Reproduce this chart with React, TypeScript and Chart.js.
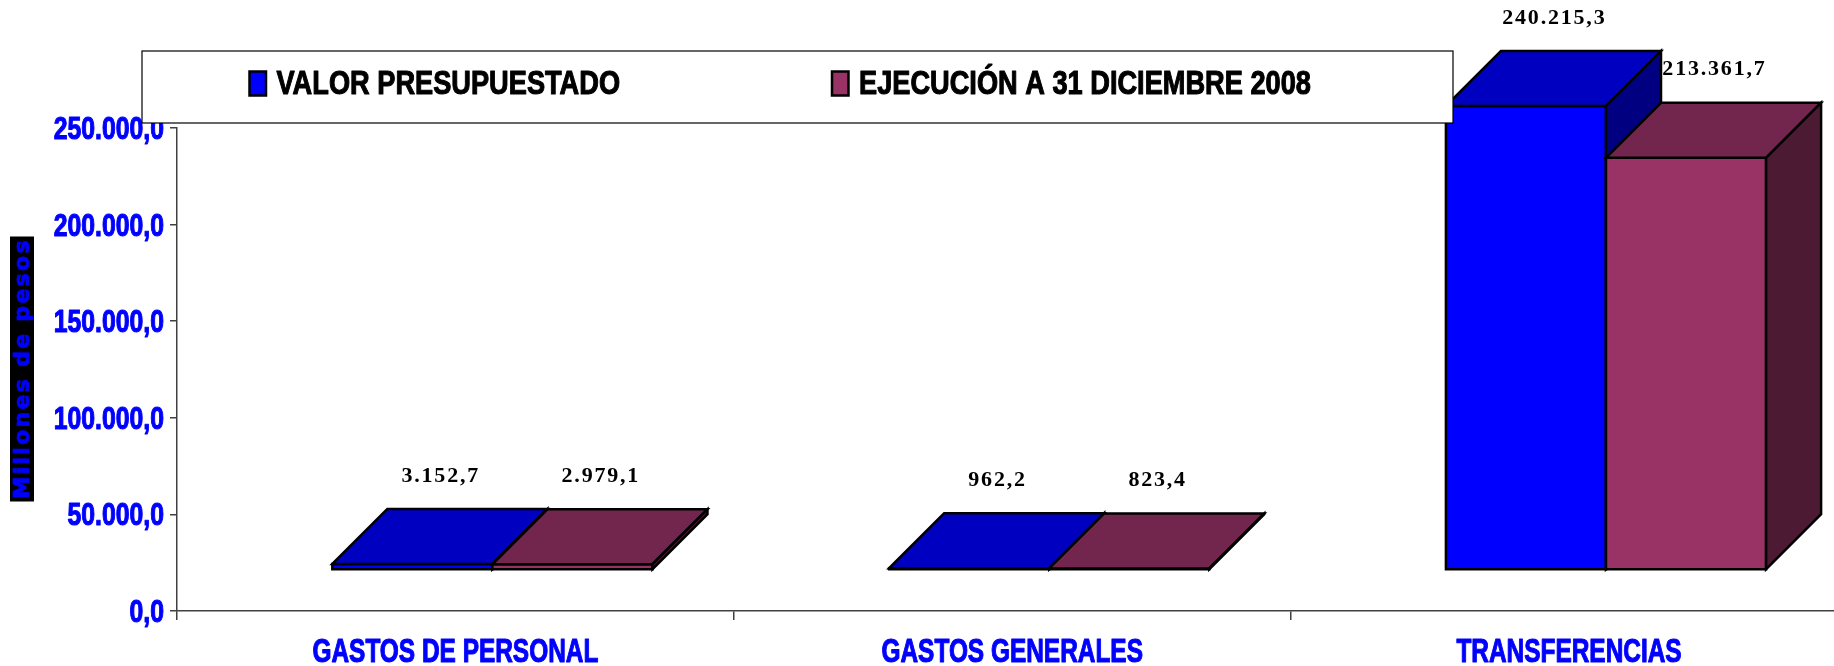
import React, { useEffect, useRef } from 'react';
import { Chart, registerables } from 'chart.js';

Chart.register(...registerables);

// ---- data ----
const categories = ['GASTOS DE PERSONAL', 'GASTOS GENERALES', 'TRANSFERENCIAS'];
const seriesNames = ['VALOR PRESUPUESTADO', 'EJECUCIÓN A 31 DICIEMBRE 2008'];
const presupuestado = [3152.7, 962.2, 240215.3];
const ejecucion = [2979.1, 823.4, 213361.7];
const yTickValues = [0, 50000, 100000, 150000, 200000, 250000];
const axisTitle = 'Millones de pesos';

// ---- styles ----
const frontColors = ['#0000FF', '#993366'];
const topColors = ['#0000C0', '#73264D'];
const sideColors = ['#000080', '#4D1A33'];
const SANS = "'Liberation Sans', Arial, sans-serif";
const SERIF = "'Liberation Serif', 'Times New Roman', serif";
const FRONT_DX = 37;
const FRONT_DY = -41;
const DEPTH = 55;

const fmt = (v: number) => {
  const [i, d] = Math.abs(v).toFixed(1).split('.');
  return i.replace(/\B(?=(\d{3})+(?!\d))/g, '.') + ',' + d;
};

// draw condensed heavy text (narrow bold face emulated by horizontal scaling)
function narrowText(ctx: any, text: string, x: number, y: number, size: number, sx: number, align: string, color: string) {
  ctx.save();
  ctx.translate(x, y);
  ctx.scale(sx, 1);
  ctx.font = `bold ${size}px ${SANS}`;
  ctx.fillStyle = color;
  ctx.strokeStyle = color;
  ctx.lineWidth = 1.1;
  ctx.lineJoin = 'round';
  ctx.textAlign = align;
  ctx.textBaseline = 'alphabetic';
  ctx.fillText(text, 0, 0);
  ctx.strokeText(text, 0, 0);
  ctx.restore();
}

const bars3d = {
  id: 'bars3d',
  afterDatasetsDraw(chart: any) {
    const ctx = chart.ctx;
    const area = chart.chartArea;
    const ys = chart.scales.y;
    const xs = chart.scales.x;

    // axis tick labels
    ys.ticks.forEach((t: any) => {
      narrowText(ctx, fmt(t.value), area.left - 13, ys.getPixelForValue(t.value) + 11, 31, 0.8, 'right', '#0000FF');
    });
    chart.data.labels.forEach((lab: string, i: number) => {
      narrowText(ctx, lab, xs.getPixelForValue(i), area.bottom + 51, 33, 0.74, 'center', '#0000FF');
    });

    ctx.save();
    ctx.lineWidth = 2.5;
    ctx.lineJoin = 'miter';
    ctx.strokeStyle = '#000';
    const labels: any[] = [];
    const n = chart.data.labels.length;
    for (let i = 0; i < n; i++) {
      chart.data.datasets.forEach((ds: any, di: number) => {
        const el = chart.getDatasetMeta(di).data[i];
        if (!el) return;
        const { x, y, base, width } = el.getProps(['x', 'y', 'base', 'width'], true);
        const x0 = x - width / 2 + FRONT_DX;
        const x1 = x + width / 2 + FRONT_DX;
        const yt = y + FRONT_DY;
        const yb = base + FRONT_DY;
        // front
        ctx.fillStyle = frontColors[di];
        ctx.beginPath();
        ctx.rect(x0, yt, x1 - x0, yb - yt);
        ctx.fill();
        ctx.stroke();
        // top
        ctx.fillStyle = topColors[di];
        ctx.beginPath();
        ctx.moveTo(x0, yt);
        ctx.lineTo(x0 + DEPTH, yt - DEPTH);
        ctx.lineTo(x1 + DEPTH, yt - DEPTH);
        ctx.lineTo(x1, yt);
        ctx.closePath();
        ctx.fill();
        ctx.stroke();
        // side
        ctx.fillStyle = sideColors[di];
        ctx.beginPath();
        ctx.moveTo(x1, yt);
        ctx.lineTo(x1 + DEPTH, yt - DEPTH);
        ctx.lineTo(x1 + DEPTH, yb - DEPTH);
        ctx.lineTo(x1, yb);
        ctx.closePath();
        ctx.fill();
        ctx.stroke();
        labels.push({ text: fmt(ds.data[i]), x: (x0 + x1) / 2 + DEPTH / 2, y: yt - DEPTH - 33 });
      });
    }
    ctx.fillStyle = '#000';
    ctx.font = `bold 22px ${SERIF}`;
    (ctx as any).letterSpacing = '1.8px';
    ctx.textAlign = 'center';
    ctx.textBaseline = 'middle';
    labels.forEach((l) => ctx.fillText(l.text, l.x + 0.9, l.y));
    ctx.restore();
  },
  afterDraw(chart: any) {
    const ctx = chart.ctx;
    const area = chart.chartArea;
    ctx.save();
    // legend box
    const lx = 142, ly = 51, lw = 1311, lh = 72;
    ctx.fillStyle = '#fff';
    ctx.fillRect(lx, ly, lw, lh);
    ctx.strokeStyle = '#000';
    ctx.lineWidth = 1.2;
    ctx.strokeRect(lx, ly, lw, lh);
    const itemX = [249.5, 832];
    chart.data.datasets.forEach((ds: any, di: number) => {
      const mx = itemX[di];
      ctx.fillStyle = frontColors[di];
      ctx.fillRect(mx, ly + 20.5, 16.5, 24);
      ctx.lineWidth = 2.5;
      ctx.strokeStyle = '#000';
      ctx.strokeRect(mx, ly + 20.5, 16.5, 24);
      narrowText(ctx, ds.label, mx + 27, ly + 43.3, 34, 0.8, 'left', '#000');
    });
    // y-axis title
    const cy = (area.top + area.bottom) / 2;
    ctx.fillStyle = '#000';
    ctx.fillRect(10, cy - 133, 24, 265);
    ctx.translate(22, cy);
    ctx.rotate(-Math.PI / 2);
    ctx.font = `bold 22px 'DejaVu Sans', sans-serif`;
    const w = ctx.measureText(axisTitle).width;
    const sp = (258 - w) / (axisTitle.length - 1);
    (ctx as any).letterSpacing = `${sp}px`;
    ctx.fillStyle = '#0000FF';
    ctx.strokeStyle = '#0000FF';
    ctx.lineWidth = 0.8;
    ctx.textAlign = 'left';
    ctx.textBaseline = 'middle';
    ctx.fillText(axisTitle, -129, 1);
    ctx.strokeText(axisTitle, -129, 1);
    ctx.restore();
  },
};

export default function App() {
  const ref = useRef<HTMLCanvasElement>(null);
  useEffect(() => {
    document.body.style.margin = '0';
    const canvas = ref.current!;
    const chart = new Chart(canvas, {
      type: 'bar',
      data: {
        labels: categories,
        datasets: [
          { label: seriesNames[0], data: presupuestado, backgroundColor: 'rgba(0,0,0,0)', borderWidth: 0 },
          { label: seriesNames[1], data: ejecucion, backgroundColor: 'rgba(0,0,0,0)', borderWidth: 0 },
        ],
      },
      options: {
        responsive: false,
        animation: false,
        layout: { padding: { top: 128, right: 12.6, left: 0, bottom: 0 } },
        datasets: { bar: { categoryPercentage: 0.575, barPercentage: 1 } },
        plugins: { legend: { display: false }, tooltip: { enabled: false } },
        scales: {
          x: {
            offset: true,
            grid: { offset: true, drawOnChartArea: false, tickLength: 9, color: '#404040', lineWidth: 1.5 },
            border: { color: '#404040', width: 1.5 },
            ticks: { display: false, autoSkip: false },
            afterFit: (s: any) => { s.height = 55; },
          },
          y: {
            min: 0,
            max: 250000,
            afterBuildTicks: (s: any) => { s.ticks = yTickValues.map((v) => ({ value: v })); },
            grid: { drawOnChartArea: false, tickLength: 7, color: '#404040', lineWidth: 1.5 },
            border: { color: '#404040', width: 1.5 },
            ticks: { display: false },
            afterFit: (s: any) => { s.width = 177; },
          },
        },
      },
      plugins: [bars3d],
    } as any);
    return () => chart.destroy();
  }, []);
  return (
    <div style={{ width: '100vw', height: '100vh', overflow: 'hidden', background: '#fff' }}>
      <canvas ref={ref} width={1860} height={666} style={{ display: 'block' }} />
    </div>
  );
}
